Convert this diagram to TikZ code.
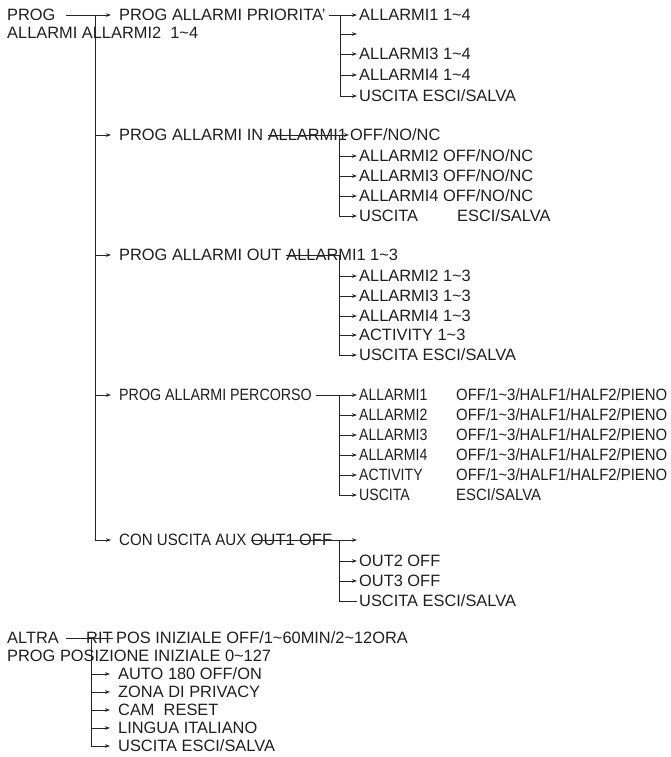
\documentclass[tikz,border=0pt]{standalone}
\usepackage{fontspec}
\setmainfont{Liberation Sans}
\usetikzlibrary{arrows.meta}
\begin{document}
\begin{tikzpicture}[x=1pt,y=-1pt,
  txt/.style={anchor=west,inner sep=0pt,text height=11.7pt,text depth=0pt,font=\fontsize{16.4}{18}\selectfont,text=black!88},
  con/.style={line width=0.8pt,draw=black!85},
  arr/.style={con,-{Stealth[length=5pt,width=3.6pt]}},
]
\useasboundingbox (0,0) rectangle (671,757);
\clip (0,0) rectangle (671,757);
% ---------- root ----------
\node[txt] (prog)  at (7,15) {PROG};
\node[txt] (progb) at (7,33) {ALLARMI ALLARMI2\ \ 1\textasciitilde4};
\coordinate (mv) at (95,15);
% ---------- section 1 ----------
\node[txt] (s1) at (119,15) {PROG ALLARMI PRIORITA'};
\coordinate (v1) at (340,15);
\node[txt] (a11) at (359,15) {ALLARMI1 1\textasciitilde4};
\coordinate (a12) at (357,34);
\node[txt] (a13) at (359,54) {ALLARMI3 1\textasciitilde4};
\node[txt] (a14) at (359,75) {ALLARMI4 1\textasciitilde4};
\node[txt] (a15) at (359,96) {USCITA ESCI/SALVA};
% ---------- section 2 ----------
\node[txt] (s2)  at (119,135) {PROG ALLARMI IN};
\node[txt] (s2b) at ([xshift=4.2pt]s2.east) {ALLARMI1};
\coordinate (v2) at (339,135);
\node[txt] (b1) at (350,135) {OFF/NO/NC};
\node[txt] (b2) at (359,156) {ALLARMI2 OFF/NO/NC};
\node[txt] (b3) at (359,176) {ALLARMI3 OFF/NO/NC};
\node[txt] (b4) at (359,196) {ALLARMI4 OFF/NO/NC};
\node[txt] (b5) at (359,216) {\makebox[98pt][l]{USCITA}ESCI/SALVA};
% ---------- section 3 ----------
\node[txt] (s3)  at (119,255) {PROG ALLARMI OUT};
\node[txt] (s3b) at ([xshift=4.6pt]s3.east) {ALLARMI1 1\textasciitilde3};
\coordinate (v3) at (339,255);
\node[txt] (c2) at (359,276) {ALLARMI2 1\textasciitilde3};
\node[txt] (c3) at (359,296) {ALLARMI3 1\textasciitilde3};
\node[txt] (c4) at (359,316) {ALLARMI4 1\textasciitilde3};
\node[txt] (c5) at (359,335) {ACTIVITY 1\textasciitilde3};
\node[txt] (c6) at (359,355) {USCITA ESCI/SALVA};
% ---------- section 4 ----------
\node[txt] (s4) at (119,395) {\scalebox{0.87}[1]{PROG ALLARMI PERCORSO}};
\coordinate (v4) at (339,395);
\foreach \n/\y/\l in {d1/395/ALLARMI1,d2/415/ALLARMI2,d3/435/ALLARMI3,d4/455/ALLARMI4,d5/475/ACTIVITY}{
  \node[txt] (\n) at (359,\y) {\scalebox{0.86}[1]{\l}};
  \node[txt] (\n v) at (456,\y) {\scalebox{0.91}[1]{OFF/1\textasciitilde3/HALF1/HALF2/PIENO}};
}
\node[txt] (d6) at (359,495) {\scalebox{0.86}[1]{USCITA}};
\node[txt] (d6v) at (456,495) {\scalebox{0.91}[1]{ESCI/SALVA}};
% ---------- section 5 ----------
\node[txt] (s5)  at (119,540) {\scalebox{0.92}[1]{CON USCITA AUX}};
\node[txt] (s5b) at ([xshift=4.2pt]s5.east) {OUT1 OFF};
\coordinate (v5) at (339,540);
\coordinate (e1) at (357,540);
\node[txt] (e2) at (359,561) {OUT2 OFF};
\node[txt] (e3) at (359,581) {OUT3 OFF};
\node[txt] (e4) at (359,601) {USCITA ESCI/SALVA};
% ---------- section 6 ----------
\node[txt] (altra) at (7,638) {ALTRA};
\node[txt] (rit)   at (86,638) {RIT};
\node[txt] (pos)   at (116,638) {POS INIZIALE OFF/1\textasciitilde60MIN/2\textasciitilde12ORA};
\node[txt] (progp) at (7,656) {PROG POSIZIONE INIZIALE 0\textasciitilde127};
\coordinate (v6) at (91,638);
\node[txt] (f1) at (118,674) {AUTO 180 OFF/ON};
\node[txt] (f2) at (118,692) {ZONA DI PRIVACY};
\node[txt] (f3) at (118,710) {CAM\ \ RESET};
\node[txt] (f4) at (118,728) {LINGUA ITALIANO};
\node[txt] (f5) at (118,746) {USCITA ESCI/SALVA};
% ========== connectors ==========
% root
\draw[arr] ([xshift=10pt]prog.east) -- ([xshift=-8pt]s1.west);
\draw[con] (mv) -- (mv |- s5.west);
\foreach \t in {s2,s3,s4} \draw[arr] (mv |- \t.west) -- ([xshift=-8pt]\t.west);
\draw[arr] (mv |- s5.west) -- ([xshift=-8pt]s5.west);
% section 1
\draw[con] ([xshift=3pt]s1.east) -- (v1) -- (v1 |- a15.west);
\foreach \t in {a11,a13,a14,a15} \draw[arr] (v1 |- \t.west) -- ([xshift=-2pt]\t.west);
\draw[arr] (v1 |- a12) -- (a12);
% section 2
\draw[arr] (s2b.west) -- ([xshift=-1pt]b1.west);
\draw[con] (v2) -- (v2 |- b5.west);
\foreach \t in {b2,b3,b4,b5} \draw[arr] (v2 |- \t.west) -- ([xshift=-2pt]\t.west);
% section 3
\draw[con] (s3b.west) -- (v3) -- (v3 |- c6.west);
\foreach \t in {c2,c3,c4,c5,c6} \draw[arr] (v3 |- \t.west) -- ([xshift=-2pt]\t.west);
% section 4
\draw[con] ([xshift=4pt]s4.east) -- (v4) -- (v4 |- d6.west);
\foreach \t in {d1,d2,d3,d4,d5,d6} \draw[arr] (v4 |- \t.west) -- ([xshift=-2pt]\t.west);
% section 5
\draw[arr] (s5b.west) -- (e1);
\draw[con] (v5) -- (v5 |- e4.west);
\foreach \t in {e2,e3} \draw[arr] (v5 |- \t.west) -- ([xshift=-2pt]\t.west);
\draw[con] (v5 |- e4.west) -- ([xshift=-2pt]e4.west);
% section 6
\draw[con] ([xshift=7pt]altra.east) -- (rit.east);
\draw[con] (v6) -- (v6 |- f5.west);
\foreach \t in {f1,f2,f3,f4,f5} \draw[arr] (v6 |- \t.west) -- ([xshift=-8pt]\t.west);
\end{tikzpicture}
\end{document}
